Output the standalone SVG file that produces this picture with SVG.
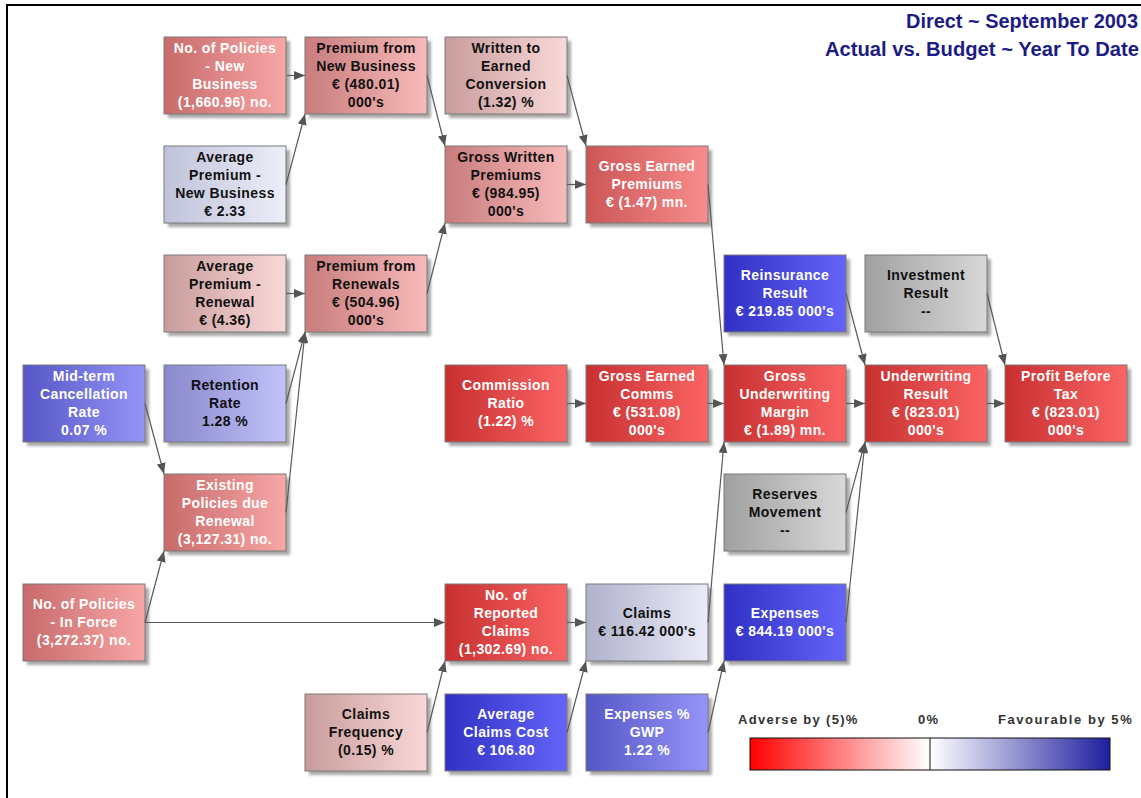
<svg xmlns="http://www.w3.org/2000/svg" width="1141" height="798" viewBox="0 0 1141 798">
<defs>
<style>
.box{stroke:#7a7a7a;stroke-width:1}
.sh{fill:#8a8a8a;opacity:.75;filter:url(#blur)}
.t{font-family:"Liberation Sans",Arial,sans-serif;font-weight:bold;font-size:14px;text-anchor:middle;letter-spacing:0.4px}
.w{fill:#ffffff}
.k{fill:#111111}
.c{stroke:#5a5a5a;stroke-width:1.2;fill:none;marker-end:url(#arr)}
.title{font-family:"Liberation Sans",Arial,sans-serif;font-weight:bold;font-size:20px;fill:#1c1c84;text-anchor:end}
.lg{font-family:"Liberation Sans",Arial,sans-serif;font-weight:bold;font-size:13px;fill:#333;letter-spacing:1.3px}
</style>
<filter id="blur" x="-10%" y="-10%" width="130%" height="130%"><feGaussianBlur stdDeviation="1.5"/></filter>
<marker id="arr" markerWidth="11" markerHeight="9" refX="11" refY="4.5" orient="auto" markerUnits="userSpaceOnUse"><path d="M0,0 L11,4.5 L0,9 z" fill="#555"/></marker>
<linearGradient id="gRed"><stop offset="0" stop-color="#c83030"/><stop offset="1" stop-color="#fa6464"/></linearGradient>
<linearGradient id="gRedM"><stop offset="0" stop-color="#cc5656"/><stop offset="1" stop-color="#f88c8c"/></linearGradient>
<linearGradient id="gRose"><stop offset="0" stop-color="#c86a6a"/><stop offset="1" stop-color="#f8a6a6"/></linearGradient>
<linearGradient id="gPink"><stop offset="0" stop-color="#c87c7c"/><stop offset="1" stop-color="#f8baba"/></linearGradient>
<linearGradient id="gPinkL"><stop offset="0" stop-color="#c89c9c"/><stop offset="1" stop-color="#fad8d8"/></linearGradient>
<linearGradient id="gLav"><stop offset="0" stop-color="#c0c2da"/><stop offset="1" stop-color="#eceef8"/></linearGradient>
<linearGradient id="gClaims"><stop offset="0" stop-color="#b0b2cc"/><stop offset="1" stop-color="#eaeaf8"/></linearGradient>
<linearGradient id="gBlue"><stop offset="0" stop-color="#3030c4"/><stop offset="1" stop-color="#6464f8"/></linearGradient>
<linearGradient id="gBlueM"><stop offset="0" stop-color="#5656c6"/><stop offset="1" stop-color="#9494f8"/></linearGradient>
<linearGradient id="gBlueL"><stop offset="0" stop-color="#8888cc"/><stop offset="1" stop-color="#c2c2fa"/></linearGradient>
<linearGradient id="gGray"><stop offset="0" stop-color="#a0a0a0"/><stop offset="1" stop-color="#d8d8d8"/></linearGradient>
<linearGradient id="gLegend"><stop offset="0" stop-color="#ff0000"/><stop offset="0.5" stop-color="#ffffff"/><stop offset="1" stop-color="#1e1e9e"/></linearGradient>
</defs>
<rect x="0" y="0" width="1141" height="798" fill="#ffffff"/>
<path d="M7,798 V5 H1141" fill="none" stroke="#000" stroke-width="2"/>
<g id="title">
<text class="title" x="1138" y="28" textLength="232" lengthAdjust="spacingAndGlyphs">Direct ~ September 2003</text>
<text class="title" x="1139" y="56" textLength="314" lengthAdjust="spacingAndGlyphs">Actual vs. Budget ~ Year To Date</text>
</g>

<g id="n-newpolicies"><rect class="sh" x="168" y="41" width="122" height="77"/><rect class="box" x="164" y="37" width="122" height="77" fill="url(#gRose)"/><text class="t w"><tspan x="225" y="53">No. of Policies</tspan><tspan x="225" y="71">- New</tspan><tspan x="225" y="89">Business</tspan><tspan x="225" y="107">(1,660.96) no.</tspan></text></g>
<g id="n-premnb"><rect class="sh" x="309" y="41" width="122" height="77"/><rect class="box" x="305" y="37" width="122" height="77" fill="url(#gPink)"/><text class="t k"><tspan x="366" y="53">Premium from</tspan><tspan x="366" y="71">New Business</tspan><tspan x="366" y="89">€ (480.01)</tspan><tspan x="366" y="107">000's</tspan></text></g>
<g id="n-w2e"><rect class="sh" x="449" y="41" width="122" height="77"/><rect class="box" x="445" y="37" width="122" height="77" fill="url(#gPinkL)"/><text class="t k"><tspan x="506" y="53">Written to</tspan><tspan x="506" y="71">Earned</tspan><tspan x="506" y="89">Conversion</tspan><tspan x="506" y="107">(1.32) %</tspan></text></g>
<g id="n-avgpremnb"><rect class="sh" x="168" y="150" width="122" height="77"/><rect class="box" x="164" y="146" width="122" height="77" fill="url(#gLav)"/><text class="t k"><tspan x="225" y="162">Average</tspan><tspan x="225" y="180">Premium -</tspan><tspan x="225" y="198">New Business</tspan><tspan x="225" y="216">€ 2.33</tspan></text></g>
<g id="n-gwp"><rect class="sh" x="449" y="150" width="122" height="77"/><rect class="box" x="445" y="146" width="122" height="77" fill="url(#gPink)"/><text class="t k"><tspan x="506" y="162">Gross Written</tspan><tspan x="506" y="180">Premiums</tspan><tspan x="506" y="198">€ (984.95)</tspan><tspan x="506" y="216">000's</tspan></text></g>
<g id="n-gep"><rect class="sh" x="590" y="150" width="122" height="77"/><rect class="box" x="586" y="146" width="122" height="77" fill="url(#gRedM)"/><text class="t w"><tspan x="647" y="171">Gross Earned</tspan><tspan x="647" y="189">Premiums</tspan><tspan x="647" y="207">€ (1.47) mn.</tspan></text></g>
<g id="n-avgpremren"><rect class="sh" x="168" y="259" width="122" height="77"/><rect class="box" x="164" y="255" width="122" height="77" fill="url(#gPinkL)"/><text class="t k"><tspan x="225" y="271">Average</tspan><tspan x="225" y="289">Premium -</tspan><tspan x="225" y="307">Renewal</tspan><tspan x="225" y="325">€ (4.36)</tspan></text></g>
<g id="n-premren"><rect class="sh" x="309" y="259" width="122" height="77"/><rect class="box" x="305" y="255" width="122" height="77" fill="url(#gPink)"/><text class="t k"><tspan x="366" y="271">Premium from</tspan><tspan x="366" y="289">Renewals</tspan><tspan x="366" y="307">€ (504.96)</tspan><tspan x="366" y="325">000's</tspan></text></g>
<g id="n-reins"><rect class="sh" x="728" y="259" width="122" height="77"/><rect class="box" x="724" y="255" width="122" height="77" fill="url(#gBlue)"/><text class="t w"><tspan x="785" y="280">Reinsurance</tspan><tspan x="785" y="298">Result</tspan><tspan x="785" y="316">€ 219.85 000's</tspan></text></g>
<g id="n-invest"><rect class="sh" x="869" y="259" width="122" height="77"/><rect class="box" x="865" y="255" width="122" height="77" fill="url(#gGray)"/><text class="t k"><tspan x="926" y="280">Investment</tspan><tspan x="926" y="298">Result</tspan><tspan x="926" y="316">--</tspan></text></g>
<g id="n-midterm"><rect class="sh" x="27" y="369" width="122" height="77"/><rect class="box" x="23" y="365" width="122" height="77" fill="url(#gBlueM)"/><text class="t w"><tspan x="84" y="381">Mid-term</tspan><tspan x="84" y="399">Cancellation</tspan><tspan x="84" y="417">Rate</tspan><tspan x="84" y="435">0.07 %</tspan></text></g>
<g id="n-retention"><rect class="sh" x="168" y="369" width="122" height="77"/><rect class="box" x="164" y="365" width="122" height="77" fill="url(#gBlueL)"/><text class="t k"><tspan x="225" y="390">Retention</tspan><tspan x="225" y="408">Rate</tspan><tspan x="225" y="426">1.28 %</tspan></text></g>
<g id="n-commratio"><rect class="sh" x="449" y="369" width="122" height="77"/><rect class="box" x="445" y="365" width="122" height="77" fill="url(#gRed)"/><text class="t w"><tspan x="506" y="390">Commission</tspan><tspan x="506" y="408">Ratio</tspan><tspan x="506" y="426">(1.22) %</tspan></text></g>
<g id="n-gecomms"><rect class="sh" x="590" y="369" width="122" height="77"/><rect class="box" x="586" y="365" width="122" height="77" fill="url(#gRed)"/><text class="t w"><tspan x="647" y="381">Gross Earned</tspan><tspan x="647" y="399">Comms</tspan><tspan x="647" y="417">€ (531.08)</tspan><tspan x="647" y="435">000's</tspan></text></g>
<g id="n-gum"><rect class="sh" x="728" y="369" width="122" height="77"/><rect class="box" x="724" y="365" width="122" height="77" fill="url(#gRed)"/><text class="t w"><tspan x="785" y="381">Gross</tspan><tspan x="785" y="399">Underwriting</tspan><tspan x="785" y="417">Margin</tspan><tspan x="785" y="435">€ (1.89) mn.</tspan></text></g>
<g id="n-uwresult"><rect class="sh" x="869" y="369" width="122" height="77"/><rect class="box" x="865" y="365" width="122" height="77" fill="url(#gRed)"/><text class="t w"><tspan x="926" y="381">Underwriting</tspan><tspan x="926" y="399">Result</tspan><tspan x="926" y="417">€ (823.01)</tspan><tspan x="926" y="435">000's</tspan></text></g>
<g id="n-pbt"><rect class="sh" x="1009" y="369" width="122" height="77"/><rect class="box" x="1005" y="365" width="122" height="77" fill="url(#gRed)"/><text class="t w"><tspan x="1066" y="381">Profit Before</tspan><tspan x="1066" y="399">Tax</tspan><tspan x="1066" y="417">€ (823.01)</tspan><tspan x="1066" y="435">000's</tspan></text></g>
<g id="n-existing"><rect class="sh" x="168" y="478" width="122" height="77"/><rect class="box" x="164" y="474" width="122" height="77" fill="url(#gRose)"/><text class="t w"><tspan x="225" y="490">Existing</tspan><tspan x="225" y="508">Policies due</tspan><tspan x="225" y="526">Renewal</tspan><tspan x="225" y="544">(3,127.31) no.</tspan></text></g>
<g id="n-reserves"><rect class="sh" x="728" y="478" width="122" height="77"/><rect class="box" x="724" y="474" width="122" height="77" fill="url(#gGray)"/><text class="t k"><tspan x="785" y="499">Reserves</tspan><tspan x="785" y="517">Movement</tspan><tspan x="785" y="535">--</tspan></text></g>
<g id="n-inforce"><rect class="sh" x="27" y="588" width="122" height="77"/><rect class="box" x="23" y="584" width="122" height="77" fill="url(#gRose)"/><text class="t w"><tspan x="84" y="609">No. of Policies</tspan><tspan x="84" y="627">- In Force</tspan><tspan x="84" y="645">(3,272.37) no.</tspan></text></g>
<g id="n-reported"><rect class="sh" x="449" y="588" width="122" height="77"/><rect class="box" x="445" y="584" width="122" height="77" fill="url(#gRed)"/><text class="t w"><tspan x="506" y="600">No. of</tspan><tspan x="506" y="618">Reported</tspan><tspan x="506" y="636">Claims</tspan><tspan x="506" y="654">(1,302.69) no.</tspan></text></g>
<g id="n-claims"><rect class="sh" x="590" y="588" width="122" height="77"/><rect class="box" x="586" y="584" width="122" height="77" fill="url(#gClaims)"/><text class="t k"><tspan x="647" y="618">Claims</tspan><tspan x="647" y="636">€ 116.42 000's</tspan></text></g>
<g id="n-expenses"><rect class="sh" x="728" y="588" width="122" height="77"/><rect class="box" x="724" y="584" width="122" height="77" fill="url(#gBlue)"/><text class="t w"><tspan x="785" y="618">Expenses</tspan><tspan x="785" y="636">€ 844.19 000's</tspan></text></g>
<g id="n-freq"><rect class="sh" x="309" y="698" width="122" height="77"/><rect class="box" x="305" y="694" width="122" height="77" fill="url(#gPinkL)"/><text class="t k"><tspan x="366" y="719">Claims</tspan><tspan x="366" y="737">Frequency</tspan><tspan x="366" y="755">(0.15) %</tspan></text></g>
<g id="n-avgclaims"><rect class="sh" x="449" y="698" width="122" height="77"/><rect class="box" x="445" y="694" width="122" height="77" fill="url(#gBlue)"/><text class="t w"><tspan x="506" y="719">Average</tspan><tspan x="506" y="737">Claims Cost</tspan><tspan x="506" y="755">€ 106.80</tspan></text></g>
<g id="n-expgwp"><rect class="sh" x="590" y="698" width="122" height="77"/><rect class="box" x="586" y="694" width="122" height="77" fill="url(#gBlueM)"/><text class="t w"><tspan x="647" y="719">Expenses %</tspan><tspan x="647" y="737">GWP</tspan><tspan x="647" y="755">1.22 %</tspan></text></g>

<g id="connectors">
<line class="c" x1="287" y1="75.5" x2="305" y2="75.5"/>
<line class="c" x1="286" y1="184.5" x2="305" y2="114"/>
<line class="c" x1="427" y1="75.5" x2="445" y2="146"/>
<line class="c" x1="567" y1="75.5" x2="586" y2="146"/>
<line class="c" x1="427" y1="293.5" x2="445" y2="223"/>
<line class="c" x1="567" y1="184.5" x2="586" y2="184.5"/>
<line class="c" x1="708" y1="184.5" x2="724" y2="365"/>
<line class="c" x1="286" y1="293.5" x2="305" y2="293.5"/>
<line class="c" x1="286" y1="403.5" x2="305" y2="332"/>
<line class="c" x1="286" y1="512.5" x2="305" y2="332"/>
<line class="c" x1="145" y1="403.5" x2="164" y2="474"/>
<line class="c" x1="145" y1="622.5" x2="164" y2="551"/>
<line class="c" x1="145" y1="622.5" x2="445" y2="622.5"/>
<line class="c" x1="427" y1="732.5" x2="445" y2="661"/>
<line class="c" x1="567" y1="732.5" x2="586" y2="661"/>
<line class="c" x1="708" y1="732.5" x2="724" y2="661"/>
<line class="c" x1="567" y1="622.5" x2="586" y2="622.5"/>
<line class="c" x1="708" y1="622.5" x2="724" y2="442"/>
<line class="c" x1="567" y1="403.5" x2="586" y2="403.5"/>
<line class="c" x1="708" y1="403.5" x2="724" y2="403.5"/>
<line class="c" x1="846" y1="403.5" x2="865" y2="403.5"/>
<line class="c" x1="987" y1="403.5" x2="1005" y2="403.5"/>
<line class="c" x1="846" y1="293.5" x2="865" y2="365"/>
<line class="c" x1="987" y1="293.5" x2="1005" y2="365"/>
<line class="c" x1="846" y1="512.5" x2="865" y2="442"/>
<line class="c" x1="846" y1="622.5" x2="865" y2="442"/>
</g>

<g id="legend">
<text class="lg" x="738" y="724">Adverse by (5)%</text>
<text class="lg" x="918" y="724">0%</text>
<text class="lg" x="998" y="724" textLength="135">Favourable by 5%</text>
<rect x="750" y="738" width="360" height="32" fill="url(#gLegend)" stroke="#111" stroke-width="1"/>
<line x1="930" y1="738" x2="930" y2="770" stroke="#111" stroke-width="1"/>
</g>
</svg>
